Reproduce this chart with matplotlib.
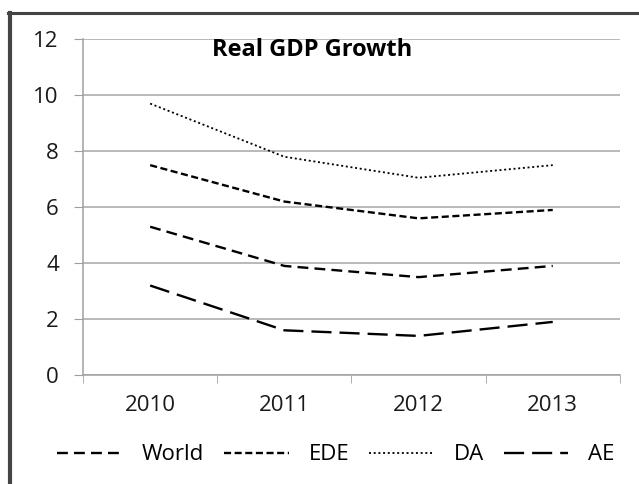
import matplotlib
matplotlib.use("Agg")
import matplotlib.pyplot as plt
from matplotlib.lines import Line2D

plt.rcParams['font.family'] = ['Open Sans', 'DejaVu Sans']

years = ["2010", "2011", "2012", "2013"]
world = [5.3, 3.9, 3.5, 3.9]
ede = [7.5, 6.2, 5.6, 5.9]
da = [9.7, 7.8, 7.05, 7.5]
ae = [3.2, 1.6, 1.4, 1.9]

fig = plt.figure(figsize=(6.39, 4.84), dpi=100)
ax = fig.add_axes([0.130, 0.225, 0.840, 0.694])

x = list(range(len(years)))
lw = 1.7
ax.plot(x, world, color="black", lw=lw, dashes=(4.6, 2.6), label="World")
ax.plot(x, ede, color="black", lw=lw, dashes=(3.0, 1.5), label="EDE")
ax.plot(x, da, color="black", lw=1.3, dashes=(1.1, 1.5), label="DA")
ax.plot(x, ae, color="black", lw=lw, dashes=(8.5, 3.4), label="AE")

ax.set_ylim(0, 12)
ax.set_yticks(range(0, 13, 2))
ax.set_xlim(-0.5, len(years) - 0.5)
ax.set_xticks(x)
ax.set_xticklabels(years)
ax.set_xticks([i - 0.5 for i in range(len(years) + 1)], minor=True)
ax.tick_params(axis="x", which="major", length=0, pad=14, labelsize=16, labelcolor="#1a1a1a")
ax.tick_params(axis="x", which="minor", length=6, color="#a0a0a0", direction="out")
ax.tick_params(axis="y", length=6.5, color="#a0a0a0", pad=11, labelsize=16, labelcolor="#1a1a1a")

ax.grid(axis="y", color="#a6a6a6", lw=1.1)
ax.set_axisbelow(True)
for side in ["top", "right"]:
    ax.spines[side].set_visible(False)
for side in ["left", "bottom"]:
    ax.spines[side].set_color("#a0a0a0")
    ax.spines[side].set_linewidth(1.1)

fig.text(0.332, 0.897, "Real GDP Growth", ha="left", va="center",
         fontsize=17, fontweight="bold", color="black")

fig.legend(loc="center", bbox_to_anchor=(0.526, 0.06), ncol=4, frameon=False,
           fontsize=16, handlelength=2.9, handletextpad=0.9, columnspacing=0.9)

# outer chart frame (only the left and top edges are visible in the crop)
fig.add_artist(Line2D([0.015, 0.015], [0.0, 0.973], transform=fig.transFigure,
                      color="#444444", lw=3.0))
fig.add_artist(Line2D([0.013, 1.0], [0.973, 0.973], transform=fig.transFigure,
                      color="#444444", lw=2.2))

fig.savefig("out.png", dpi=100)
